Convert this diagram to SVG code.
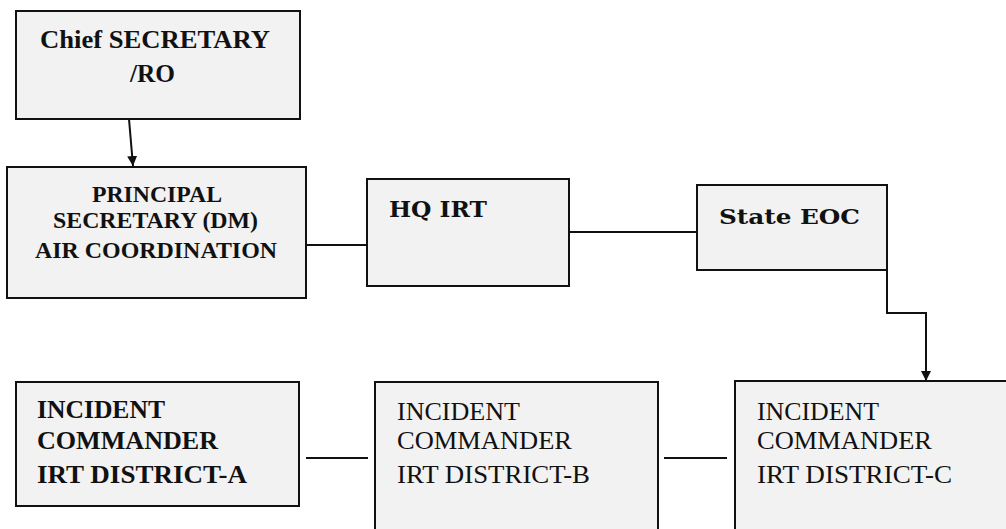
<svg xmlns="http://www.w3.org/2000/svg" width="1006" height="529" viewBox="0 0 1006 529">
  <style>
    .box { fill: #f2f2f2; stroke: #111; stroke-width: 2; }
    .link { fill: none; stroke: #111; stroke-width: 2; }
    text { fill: #111; }
  </style>
  <defs>
    <marker id="arrow" viewBox="0 0 10 10" refX="10" refY="5" markerWidth="5" markerHeight="5" markerUnits="strokeWidth" orient="auto">
      <path d="M0,0 L10,5 L0,10 Z" fill="#111"/>
    </marker>
  </defs>

  <!-- connectors -->
  <g id="connectors">
    <line class="link" x1="129" y1="119" x2="133" y2="166" marker-end="url(#arrow)"/>
    <line class="link" x1="306" y1="245" x2="367" y2="245"/>
    <line class="link" x1="569" y1="232" x2="697" y2="232"/>
    <polyline class="link" points="887,245 887,313 926,313 926,381" marker-end="url(#arrow)"/>
    <line class="link" x1="306" y1="458" x2="368" y2="458"/>
    <line class="link" x1="664" y1="458" x2="727" y2="458"/>
  </g>

  <g id="chief-secretary" font-family="'Liberation Serif', 'Times New Roman', serif" font-weight="bold" font-size="25">
    <rect class="box" x="16" y="11" width="284" height="108"/>
    <text x="40" y="48" textLength="230" lengthAdjust="spacingAndGlyphs">Chief SECRETARY</text>
    <text x="130" y="82" textLength="45" lengthAdjust="spacingAndGlyphs">/RO</text>
  </g>

  <g id="principal-secretary" font-family="'Liberation Serif', 'Times New Roman', serif" font-weight="bold" font-size="24">
    <rect class="box" x="7" y="167" width="299" height="131"/>
    <text x="92" y="202" textLength="130" lengthAdjust="spacingAndGlyphs">PRINCIPAL</text>
    <text x="53" y="228" textLength="205" lengthAdjust="spacingAndGlyphs">SECRETARY (DM)</text>
    <text x="35" y="258" textLength="242" lengthAdjust="spacingAndGlyphs">AIR COORDINATION</text>
  </g>

  <g id="hq-irt" font-family="'DejaVu Serif', serif" font-weight="bold" font-size="22">
    <rect class="box" x="367" y="179" width="202" height="107"/>
    <text x="389" y="217" textLength="98" lengthAdjust="spacingAndGlyphs">HQ IRT</text>
  </g>

  <g id="state-eoc" font-family="'DejaVu Serif', serif" font-weight="bold" font-size="21">
    <rect class="box" x="697" y="185" width="190" height="85"/>
    <text x="719" y="224" textLength="141" lengthAdjust="spacingAndGlyphs">State EOC</text>
  </g>

  <g id="district-a" font-family="'Liberation Serif', 'Times New Roman', serif" font-weight="bold" font-size="26">
    <rect class="box" x="16" y="382" width="283" height="124"/>
    <text x="37" y="418" textLength="128" lengthAdjust="spacingAndGlyphs">INCIDENT</text>
    <text x="37" y="449" textLength="181" lengthAdjust="spacingAndGlyphs">COMMANDER</text>
    <text x="37" y="483" textLength="210" lengthAdjust="spacingAndGlyphs">IRT DISTRICT-A</text>
  </g>

  <g id="district-b" font-family="'Liberation Serif', 'Times New Roman', serif" font-size="26">
    <rect class="box" x="375" y="382" width="283" height="160"/>
    <text x="397" y="420" textLength="123" lengthAdjust="spacingAndGlyphs">INCIDENT</text>
    <text x="397" y="449" textLength="175" lengthAdjust="spacingAndGlyphs">COMMANDER</text>
    <text x="397" y="483" textLength="193" lengthAdjust="spacingAndGlyphs">IRT DISTRICT-B</text>
  </g>

  <g id="district-c" font-family="'Liberation Serif', 'Times New Roman', serif" font-size="26">
    <rect class="box" x="735" y="381" width="290" height="160"/>
    <text x="757" y="420" textLength="122" lengthAdjust="spacingAndGlyphs">INCIDENT</text>
    <text x="757" y="449" textLength="175" lengthAdjust="spacingAndGlyphs">COMMANDER</text>
    <text x="757" y="483" textLength="195" lengthAdjust="spacingAndGlyphs">IRT DISTRICT-C</text>
  </g>
</svg>
